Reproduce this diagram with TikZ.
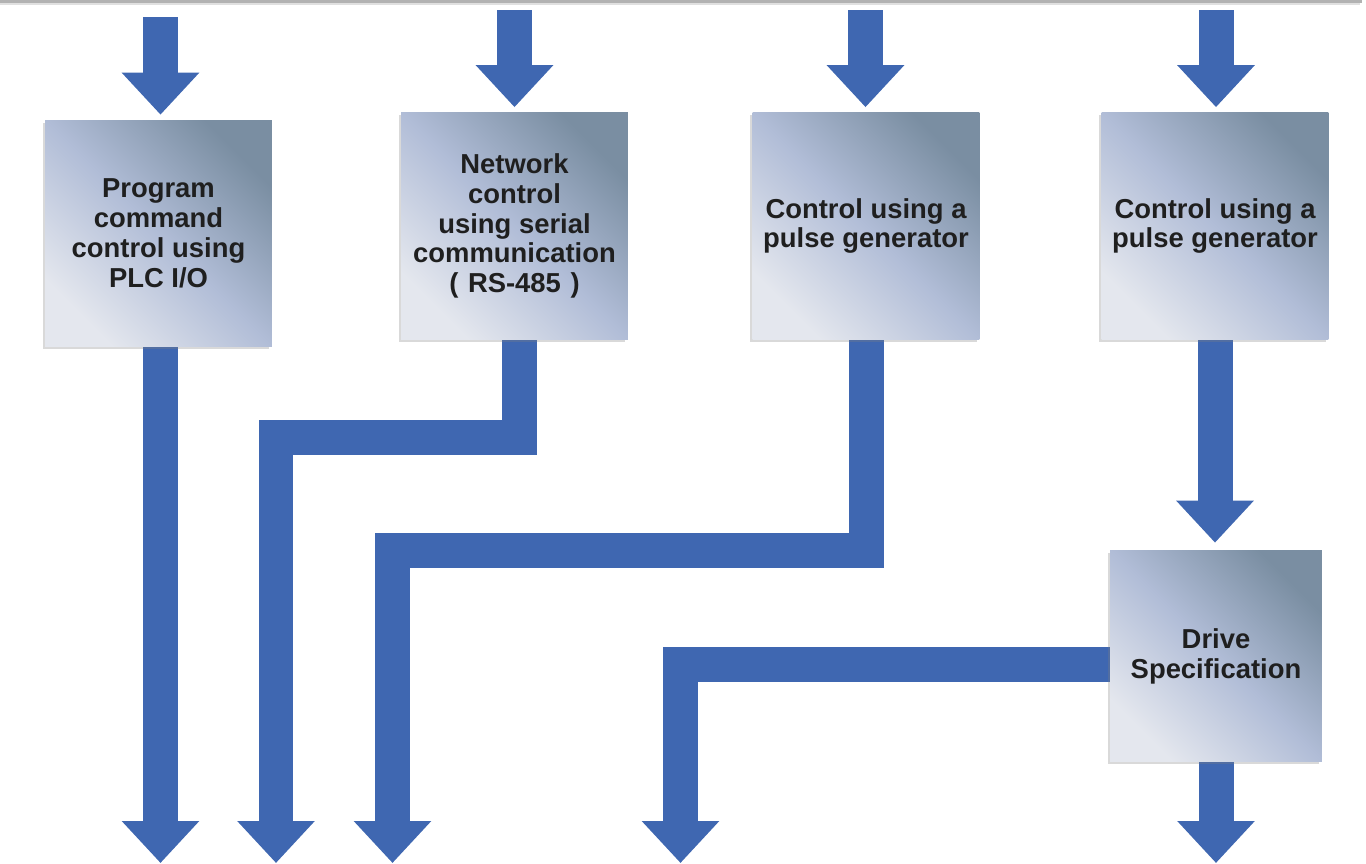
\documentclass[tikz,border=0pt]{standalone}
\usepackage{fontspec}
\setmainfont{Liberation Sans}
\usetikzlibrary{arrows.meta, shadows, positioning}

\definecolor{flowblue}{RGB}{63,103,177}
\definecolor{boxdark}{RGB}{122,142,162}
\definecolor{boxmid}{RGB}{177,189,215}
\definecolor{boxlight}{RGB}{228,231,238}

\pgfdeclarelayer{background}
\pgfsetlayers{background,main}

\begin{document}
\begin{tikzpicture}[
            x = 0.02cm, y = -0.02cm, % one unit per pixel, y going down
            flow/.style = {
                draw = flowblue,
                line width = 0.7cm, % shaft of the block arrows
                line join = miter,
                -{Triangle[width = 1.5cm, length = 0.84cm]}
            },
            block/.style = {
                minimum width = 4.54cm,
                minimum height = 4.54cm,
                inner sep = 0pt,
                align = center,
                text = black!88,
                font = \bfseries\fontsize{15.6}{17}\selectfont,
                top color = boxdark, bottom color = boxlight,
                middle color = boxmid,
                shading angle = -45,
                drop shadow = {shadow xshift = -0.05cm, shadow yshift = -0.05cm,
                    opacity = 0.3}
            }
        ]

        \useasboundingbox (0,0) rectangle (1366,863);

        % rule along the top edge
        \fill[black!30] (0,0) rectangle (1362,2.5);
        \fill[black!12] (0,2.5) rectangle (1360,5);

        \node[block] (plc) at (158.5,233.5) {Program\\command\\control using\\PLC I/O};
        \node[block] (net) at (514.5,226) {Network\\control\\using serial\\communication\\(\hspace{0.35em}RS-485\hspace{0.35em})};
        \node[block] (pulse) at (866,226) {Control using a\\pulse generator};
        \node[block] (pulsedrv) at (1215,226) {Control using a\\pulse generator};
        \node[block, minimum width = 4.24cm, minimum height = 4.24cm] (drive) at (1216,656) {Drive\\Specification};

        \coordinate (in1) at (160.5,17);
        \coordinate (in2) at (514.5,10);
        \coordinate (in3) at (865.5,10);
        \coordinate (in4) at (1216,10);

        \coordinate (out1) at (160.5,863);
        \coordinate (out2) at (276,863);
        \coordinate (out3) at (392.5,863);
        \coordinate (out4) at (680.5,863);
        \coordinate (out5) at (1216,863);

        \begin{pgfonlayer}{background}
            \draw[flow, shorten > = 0.1cm] (in1) -- (in1 |- plc.north);
            \draw[flow, shorten > = 0.1cm] (in2) -- (in2 |- net.north);
            \draw[flow, shorten > = 0.1cm] (in3) -- (in3 |- pulse.north);
            \draw[flow, shorten > = 0.1cm] (in4) -- (in4 |- pulsedrv.north);

            \draw[flow] (plc.south -| out1) -- (out1);
            \draw[flow] ([xshift = 0.09cm]net.south) |- (out2 |- 0,437) -- (out2);
            \draw[flow] (pulse.south) |- (out3 |- 0,550.5) -- (out3);
            \draw[flow, shorten > = 0.14cm] (pulsedrv.south) -- (pulsedrv.south |- drive.north);
            \draw[flow] ([yshift = -0.16cm]drive.west) -| (out4);
            \draw[flow] (drive.south) -- (out5);
        \end{pgfonlayer}

  \end{tikzpicture}
\end{document}
